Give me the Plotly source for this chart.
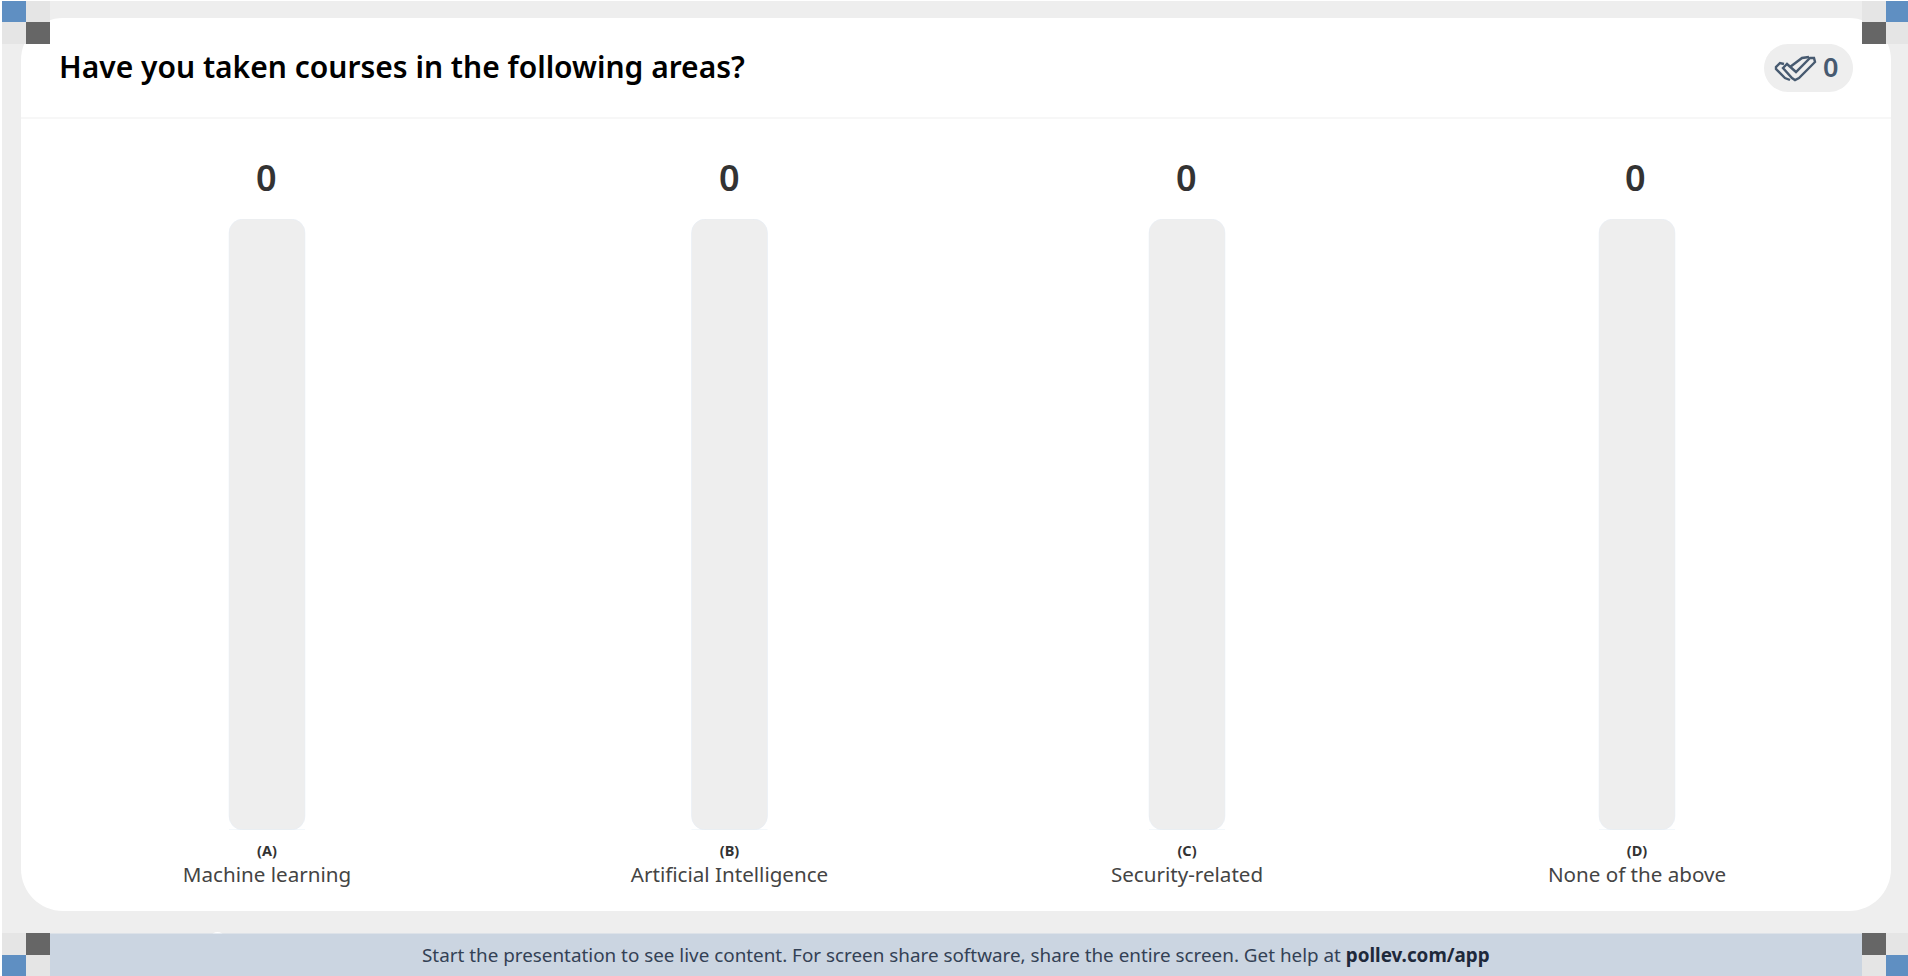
import plotly.graph_objects as go

# ---- data ----
letters = ["(A)", "(B)", "(C)", "(D)"]
categories = ["Machine learning", "Artificial Intelligence", "Security-related", "None of the above"]
votes = [0, 0, 0, 0]
track_full = [100, 100, 100, 100]
track_base = [0, 0, 0, 0]
category_centres = [267, 729.5, 1187, 1637]
total_responses = 0
title_text = "Have you taken courses in the following areas?"
footer_text = ("Start the presentation to see live content. For screen share software, "
               "share the entire screen. Get help at <b style='color:#1e293b'>pollev.com/app</b>")

W, H = 1908, 976
PLOT_TOP, PLOT_BOTTOM = 219, 830
FONT = "Noto Sans"
BG, TRACK = "#eeeeee", "#eeeeee"
BAR_W = 76
COUNT_NUDGE = [-1, 0, -1, -2]


def py(v):
    """Page pixel row -> paper coordinate."""
    return (PLOT_BOTTOM - v) / (PLOT_BOTTOM - PLOT_TOP)


def px_(v):
    return v / W


def rect(x0, y0, x1, y1, color):
    return dict(type="rect", xref="paper", yref="paper", x0=px_(x0), x1=px_(x1), y0=py(y0), y1=py(y1),
                fillcolor=color, line_width=0, layer="below")


def round_rect(x0, y0, x1, y1, r, color):
    c = 0.45 * r
    X, Y = px_, py
    d = (f"M{X(x0 + r)},{Y(y0)} L{X(x1 - r)},{Y(y0)} C{X(x1 - c)},{Y(y0)} {X(x1)},{Y(y0 + c)} {X(x1)},{Y(y0 + r)} "
         f"L{X(x1)},{Y(y1 - r)} C{X(x1)},{Y(y1 - c)} {X(x1 - c)},{Y(y1)} {X(x1 - r)},{Y(y1)} "
         f"L{X(x0 + r)},{Y(y1)} C{X(x0 + c)},{Y(y1)} {X(x0)},{Y(y1 - c)} {X(x0)},{Y(y1 - r)} "
         f"L{X(x0)},{Y(y0 + r)} C{X(x0)},{Y(y0 + c)} {X(x0 + c)},{Y(y0)} {X(x0 + r)},{Y(y0)} Z")
    return dict(type="path", xref="paper", yref="paper", path=d, fillcolor=color, line_width=0, layer="below")


def polyline(points, color, width, close=False):
    d = "M" + " L".join(f"{px_(a)},{py(b)}" for a, b in points) + (" Z" if close else "")
    return dict(type="path", xref="paper", yref="paper", path=d,
                line=dict(color=color, width=width), layer="above")


BLUE, DARK, LIGHT = "#5f8fc2", "#666666", "#e5e5e5"
shapes = [
    rect(2, 1, W, H, BG),
    round_rect(21, 18, 1891, 911, 42, "#ffffff"),
    rect(21, 117.5, 1891, 118.5, "#f0f0f0"),
    dict(type="circle", xref="paper", yref="paper", x0=px_(212), x1=px_(223), y0=py(932), y1=py(938),
         fillcolor="#ffffff", line_width=0, layer="below"),
    rect(50, 933.5, 1862, H, "#cbd5e1"),
    round_rect(1764, 44, 1853, 92, 24, BG),
]
for xa, xb, flip in [(2, 26, False), (1886, W, True)]:
    inner = (26, 50) if not flip else (1862, 1886)
    shapes += [rect(xa, 1, xb, 22, BLUE), rect(inner[0], 1, inner[1], 22, LIGHT),
               rect(xa, 22, xb, 44, LIGHT), rect(inner[0], 22, inner[1], 44, DARK),
               rect(xa, 933, xb, 955, LIGHT), rect(inner[0], 933, inner[1], 955, DARK),
               rect(xa, 955, xb, H, BLUE), rect(inner[0], 955, inner[1], H, LIGHT)]

# double check-mark icon, drawn as outlines
ICON = "#475a70"
shapes += [
    polyline([(1790, 67), (1802, 58), (1809, 57)], ICON, 2.4),
    polyline([(1784, 64), (1780, 63), (1776, 67), (1776, 69), (1785, 78), (1790, 80)], ICON, 2.4),
    polyline([(1783, 68), (1787, 64), (1796, 72), (1810, 58), (1814, 58), (1815, 62),
              (1799, 78), (1795, 80), (1792, 78)], ICON, 2.4, close=True),
]

tick_text = [f"<b><span style='font-size:14.5px;color:#333333'>{l}</span></b><br>{c}"
             for l, c in zip(letters, categories)]

fig = go.Figure()
# an explicit base makes Plotly round both ends of the grey track
fig.add_bar(x=category_centres, y=track_full, base=track_base, width=BAR_W,
            marker=dict(color=TRACK, cornerradius=14), hoverinfo="skip", showlegend=False)
fig.add_bar(x=category_centres, y=votes, width=BAR_W, marker=dict(color="#5f8fc2"),
            hoverinfo="skip", showlegend=False)

annotations = [
    dict(x=x, y=t, xref="x", yref="y", text=f"{v}", showarrow=False, xanchor="center", yanchor="bottom",
         yshift=15, xshift=n, font=dict(family=FONT, size=36, color="#333333", weight=600))
    for x, t, v, n in zip(category_centres, track_full, votes, COUNT_NUDGE)
]
annotations += [
    dict(x=px_(57), y=py(67), xref="paper", yref="paper", xanchor="left", yanchor="middle", showarrow=False,
         text=title_text, font=dict(family=FONT, size=30, color="#000000", weight=600)),
    dict(x=px_(1830), y=py(67), xref="paper", yref="paper", xanchor="center", yanchor="middle", showarrow=False,
         text=f"{total_responses}", font=dict(family=FONT, size=27, color=ICON, weight=600)),
    dict(x=px_(956), y=py(955), xref="paper", yref="paper", xanchor="center", yanchor="middle", showarrow=False,
         text=footer_text, font=dict(family=FONT, size=18.85, color="#334155")),
]

fig.update_layout(
    width=W, height=H, margin=dict(l=0, r=0, t=PLOT_TOP, b=H - PLOT_BOTTOM),
    paper_bgcolor="#ffffff", plot_bgcolor="rgba(0,0,0,0)", barmode="overlay", showlegend=False,
    shapes=shapes, annotations=annotations,
    font=dict(family=FONT),
    xaxis=dict(range=[0, W], tickmode="array", tickvals=category_centres, ticktext=tick_text,
               tickfont=dict(family=FONT, size=20.6, color="#444444"), ticks="", showgrid=False,
               zeroline=False, showline=False, tickangle=0, automargin=False, ticklabelstandoff=4, fixedrange=True),
    yaxis=dict(range=[0, 100], visible=False, fixedrange=True),
)
fig.write_html("out.html", config={"displayModeBar": False},
               post_script="document.body.style.margin='0';document.body.style.overflow='hidden';")
